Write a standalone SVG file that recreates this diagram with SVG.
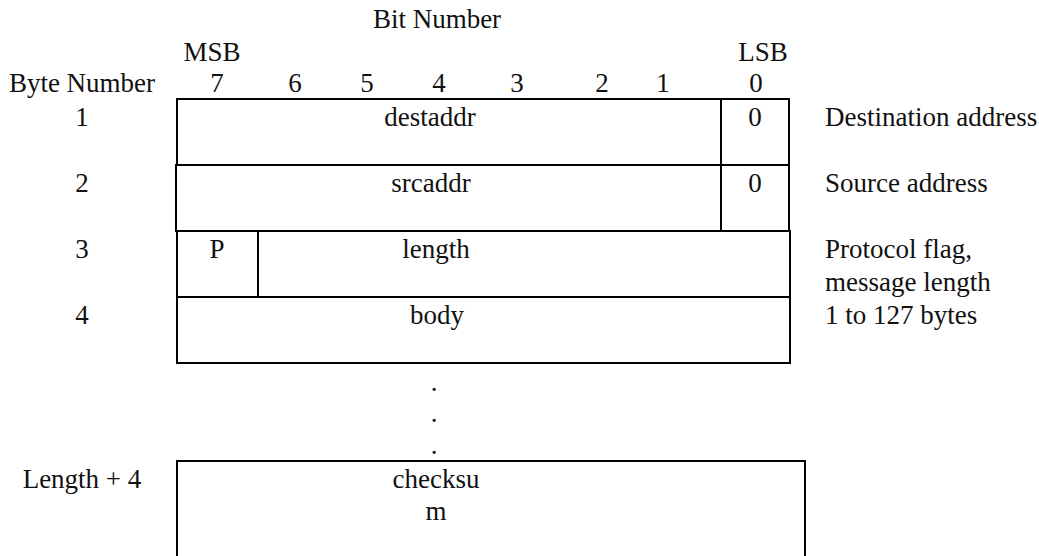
<svg xmlns="http://www.w3.org/2000/svg" width="1039" height="556" viewBox="0 0 1039 556">
  <style>
    text { font-family: "Liberation Serif", "Times New Roman", serif; font-size: 27px; fill: #111; }
    .c { text-anchor: middle; }
    .cell { fill: none; stroke: #000; stroke-width: 2; }
  </style>
  <rect width="1039" height="556" fill="#fff"/>

  <!-- header: bit numbering -->
  <g id="header">
    <text class="c" x="437" y="28">Bit Number</text>
    <text class="c" x="212" y="61">MSB</text>
    <text class="c" x="763" y="61">LSB</text>
    <text class="c" x="82" y="92">Byte Number</text>
    <text class="c" x="217" y="92">7</text>
    <text class="c" x="295" y="92">6</text>
    <text class="c" x="367" y="92">5</text>
    <text class="c" x="439" y="92">4</text>
    <text class="c" x="517" y="92">3</text>
    <text class="c" x="602" y="92">2</text>
    <text class="c" x="663" y="92">1</text>
    <text class="c" x="756" y="92">0</text>
  </g>

  <!-- byte 1: destination address -->
  <g id="byte1">
    <rect class="cell" x="177" y="99" width="612" height="66"/>
    <line class="cell" x1="721" y1="99" x2="721" y2="165"/>
    <text class="c" x="82" y="126">1</text>
    <text class="c" x="430" y="126">destaddr</text>
    <text class="c" x="755" y="126">0</text>
    <text x="825" y="126">Destination address</text>
  </g>

  <!-- byte 2: source address -->
  <g id="byte2">
    <rect class="cell" x="176" y="165" width="613" height="66"/>
    <line class="cell" x1="721" y1="165" x2="721" y2="231"/>
    <text class="c" x="82" y="192">2</text>
    <text class="c" x="431" y="192">srcaddr</text>
    <text class="c" x="755" y="192">0</text>
    <text x="825" y="192">Source address</text>
  </g>

  <!-- byte 3: protocol flag + length -->
  <g id="byte3">
    <rect class="cell" x="177" y="231" width="613" height="66"/>
    <line class="cell" x1="258" y1="231" x2="258" y2="297"/>
    <text class="c" x="82" y="258">3</text>
    <text class="c" x="217" y="258">P</text>
    <text class="c" x="436" y="258">length</text>
    <text x="825" y="258">Protocol flag,</text>
    <text x="825" y="291">message length</text>
  </g>

  <!-- byte 4: message body -->
  <g id="byte4">
    <rect class="cell" x="177" y="297" width="613" height="66"/>
    <text class="c" x="82" y="324">4</text>
    <text class="c" x="437" y="324">body</text>
    <text x="825" y="324">1 to 127 bytes</text>
  </g>

  <!-- continuation dots -->
  <g id="ellipsis">
    <text class="c" x="434" y="391">.</text>
    <text class="c" x="434" y="422">.</text>
    <text class="c" x="434" y="454">.</text>
  </g>

  <!-- final byte: checksum, open at the bottom edge -->
  <g id="checksum">
    <path class="cell" d="M177,560 V461 H805 V560"/>
    <text class="c" x="82" y="488">Length + 4</text>
    <text class="c" x="436" y="488">checksu</text>
    <text class="c" x="436" y="520">m</text>
  </g>

  <g id="connectors"></g>
</svg>
